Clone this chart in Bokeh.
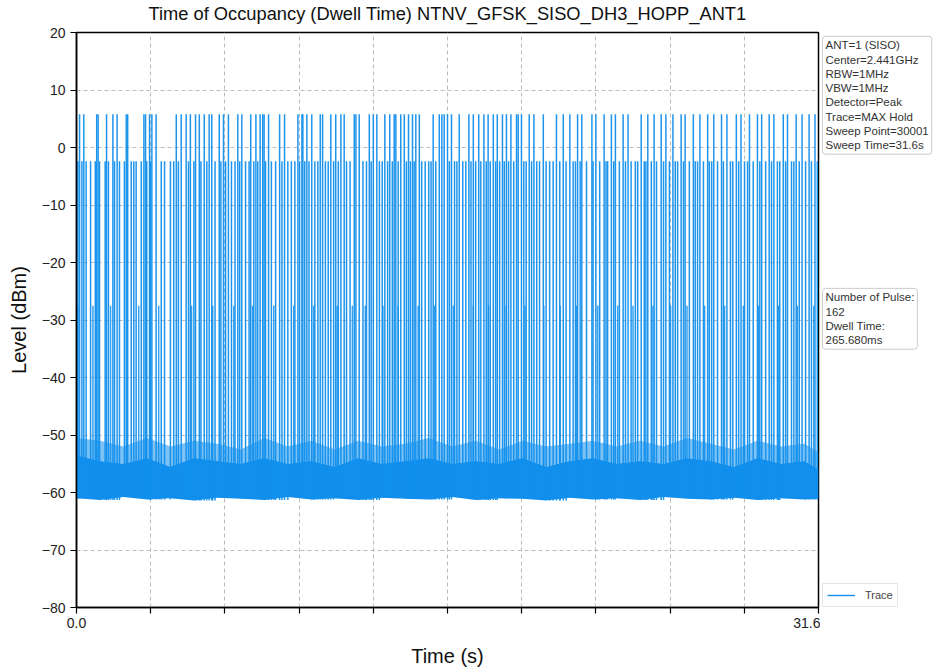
from bokeh.plotting import figure
from bokeh.layouts import row
from bokeh.models import (Range1d, FixedTicker, CustomJSTickFormatter, Label,
                          Legend, LegendItem, Title)
from bokeh.embed import file_html
from bokeh.resources import INLINE

# ---------------- data ----------------
title_text = "Time of Occupancy (Dwell Time) NTNV_GFSK_SISO_DH3_HOPP_ANT1"
sweep_time = 31.6

# pulses reaching ~ +5.8 dBm (time in s)
tall_t = [0.13, 0.31, 0.86, 0.92, 1.28, 1.55, 1.73, 2.12, 2.18, 2.87, 2.94, 3.11,
          3.21, 3.39, 4.25, 4.46, 4.67, 4.85, 5.07, 5.23,
          5.44, 5.65, 5.76, 6.08, 6.26, 6.47, 6.87, 7.04, 7.42, 7.64, 7.82, 7.93,
          7.99, 8.18, 8.65, 8.86, 9.43, 9.60, 9.64, 9.81, 10.02, 10.38, 10.48,
          10.83, 11.04, 11.26, 11.40, 11.83, 11.90, 12.04, 12.47, 12.64, 12.79,
          13.13, 13.34, 13.53, 13.60, 13.81, 13.96, 14.14, 14.31, 14.45, 14.60,
          15.19, 15.45, 15.56, 15.66,
          15.80, 15.97, 16.30, 16.71, 16.90, 17.13, 17.35, 17.53, 17.75, 17.92,
          18.14, 18.31, 18.50, 18.74, 18.81, 18.95, 19.28, 19.48, 19.88, 20.44,
          20.73, 21.01,
          21.34, 21.52, 21.95, 22.12, 22.47, 22.78, 22.95, 23.28, 23.49, 24.05,
          24.33, 24.60, 24.90, 25.10, 25.40, 25.75, 25.92, 26.27, 26.55, 26.88,
          27.14, 27.47, 27.70, 28.10, 28.30, 28.66, 29.00, 29.18, 29.50, 29.70,
          30.10, 30.28, 30.65, 30.90, 31.20, 31.45]
tall_db = 5.8

# pulses reaching ~ -2.4 dBm
med_t = [0.02, 0.06, 0.23, 0.41, 0.60, 0.80, 0.98, 1.22, 1.36, 1.62, 1.83, 2.04,
         2.33, 2.44, 2.54, 2.76, 2.99, 3.15, 3.61, 3.75, 4.00, 4.14, 4.34, 4.77,
         5.00, 5.30, 5.55, 5.90, 6.15, 6.35, 6.60, 6.75, 6.95, 7.20, 7.35, 7.55,
         7.72, 8.05, 8.30, 8.48, 8.75, 9.00, 9.15, 9.30, 9.50, 9.72, 9.90, 10.15,
         10.28, 10.60, 10.72, 10.95, 11.15, 11.50, 11.65, 12.20, 12.35, 12.55,
         12.90, 13.02, 13.25, 13.45, 13.70, 14.05, 14.22, 14.38, 14.70, 14.85,
         15.00, 15.10, 15.30, 15.88, 16.10, 16.20, 16.45, 16.58, 16.80, 17.00,
         17.22, 17.45, 17.62, 17.85, 18.02, 18.22, 18.40, 18.62, 19.05, 19.15,
         19.38, 19.60, 19.72, 20.00, 20.15, 20.30, 20.58, 20.85, 21.15, 21.25,
         21.45, 21.72, 22.00, 22.28, 22.55, 22.62, 22.88, 23.12, 23.38, 23.62,
         23.80, 23.90, 24.18, 24.25, 24.48, 24.70, 25.00, 25.25, 25.50, 25.60,
         25.85, 26.10, 26.35, 26.45, 26.70, 26.95, 27.05, 27.30, 27.55, 27.85,
         27.95, 28.20, 28.45, 28.58, 28.82, 29.10, 29.35, 29.60, 29.85, 29.95,
         30.20, 30.45, 30.55, 30.78, 31.05, 31.30, 31.55]
med_db = -2.4

# pulses reaching ~ -27.5 dBm
low_t = [0.05, 0.70, 1.45, 2.65, 3.50, 4.90, 5.80, 6.70, 7.50, 8.40, 9.25, 10.10,
         11.10, 11.75, 12.30, 13.05, 13.70, 14.55, 15.25, 16.05, 16.90, 17.55,
         18.30, 19.10, 19.90, 20.60, 21.30, 22.20, 23.05, 23.70, 24.55, 25.30,
         26.00, 26.75, 27.60, 28.40, 29.05, 29.90, 30.70, 31.40]
low_db = -27.5

# noise floor envelope
floor_t = [0, 1, 2, 3, 4, 5, 6, 7, 8, 9, 10, 11, 12, 13, 14, 15, 16, 17, 18, 19,
           20, 21, 22, 23, 24, 25, 26, 27, 28, 29, 30, 31, 31.6]
floor_hi = [-53.5, -54.5, -55, -54, -55.5, -54, -54.5, -55, -54, -55, -54.5, -55.5,
            -54, -55, -54.5, -54, -55, -54.5, -55, -54, -55.5, -54.5, -54, -55,
            -54.5, -55, -54, -54.5, -55.5, -54, -55, -54.5, -56]
floor_pk = [-50.5, -51, -52, -50.5, -52, -51, -51.5, -52.5, -50.5, -52, -51, -52.5,
            -51, -52, -51.5, -50.5, -52, -51, -52.5, -51, -52, -51.5, -51, -52,
            -51, -52, -50.5, -51.5, -52.5, -51, -52, -51.5, -53]
floor_lo = [-61.0, -61.3, -60.8, -61.2, -61.0, -61.4, -60.9, -61.1, -61.3, -60.8,
            -61.2, -61.0, -61.3, -60.9, -61.1, -61.2, -60.8, -61.3, -61.0, -61.1,
            -61.4, -60.9, -61.2, -61.0, -61.3, -60.8, -61.1, -61.2, -60.9, -61.3,
            -61.0, -61.2, -61.1]

y_ticks = [-80, -70, -60, -50, -40, -30, -20, -10, 0, 10, 20]
x_ticks = [0, 3.16, 6.32, 9.48, 12.64, 15.8, 18.96, 22.12, 25.28, 28.44, 31.6]

info_text = ("ANT=1 (SISO)\nCenter=2.441GHz\nRBW=1MHz\nVBW=1MHz\nDetector=Peak\n"
             "Trace=MAX Hold\nSweep Point=30001\nSweep Time=31.6s")
pulse_text = "Number of Pulse:\n162\nDwell Time:\n265.680ms"

# ---------------- main figure ----------------
BLUE = "#128fec"
FONT = "Liberation Sans"
H = 672
TOP, BOTTOM = 32, 65

p = figure(width=820, height=H, output_backend="svg", toolbar_location=None,
           x_range=Range1d(0, sweep_time), y_range=Range1d(-80, 20),
           min_border_left=76, min_border_right=2, min_border_top=TOP,
           min_border_bottom=BOTTOM)
p.background_fill_color = "white"
p.border_fill_color = "white"
p.outline_line_color = "black"
p.outline_line_width = 1.5
p.title.standoff = 0

# spacer (closest to the frame) then the real title above it
p.add_layout(Title(text=" ", text_font_size="1px", standoff=6), "above")
p.add_layout(Title(text=title_text, text_font=FONT, text_font_size="18.3px",
                   text_font_style="normal", text_color="#111111",
                   align="center", standoff=0), "above")

# floor
p.varea(x=floor_t, y1=floor_hi, y2=floor_pk, fill_color=BLUE, fill_alpha=0.55)
p.varea(x=floor_t, y1=floor_lo, y2=floor_hi, fill_color=BLUE, fill_alpha=1.0)

def floor_at(t):
    for i in range(len(floor_t) - 1):
        if floor_t[i] <= t <= floor_t[i + 1]:
            return floor_lo[i]
    return floor_lo[-1]

for ts, lvl, alpha in ((low_t, low_db, 0.85), (med_t, med_db, 0.95), (tall_t, tall_db, 0.95)):
    p.segment(x0=ts, y0=[floor_at(t) for t in ts], x1=ts, y1=[lvl] * len(ts),
              line_color=BLUE, line_width=1.5, line_alpha=alpha)

# axes
for ax in (p.xaxis[0], p.yaxis[0]):
    ax.axis_line_color = "black"
    ax.axis_line_width = 1.5
    ax.major_tick_line_color = "black"
    ax.major_tick_line_width = 1.2
    ax.major_tick_out = 6
    ax.major_tick_in = 0
    ax.minor_tick_line_color = None
    ax.major_label_text_font = FONT
    ax.major_label_text_font_size = "14px"
    ax.major_label_text_color = "#222222"
    ax.axis_label_text_font = FONT
    ax.axis_label_text_font_size = "20px"
    ax.axis_label_text_font_style = "normal"
    ax.axis_label_text_color = "#111111"

p.xaxis.ticker = FixedTicker(ticks=x_ticks)
p.xaxis.formatter = CustomJSTickFormatter(
    code="if (tick < 0.01) return '0.0'; if (tick > 31.5) return '31.6'; return '';")
p.xaxis.axis_label = "Time (s)"
p.xaxis.major_label_standoff = 4
p.xaxis.axis_label_standoff = 14

p.yaxis.ticker = FixedTicker(ticks=y_ticks)
p.yaxis.formatter = CustomJSTickFormatter(
    code="return String(tick).replace('-', '\u2212');")
p.yaxis.axis_label = "Level (dBm)"
p.yaxis.major_label_standoff = 5
p.yaxis.axis_label_standoff = 9

p.xgrid.grid_line_color = "#aaaaaa"
p.ygrid.grid_line_color = "#aaaaaa"
p.xgrid.grid_line_dash = "4 3"
p.ygrid.grid_line_dash = "4 3"
p.xgrid.grid_line_width = 0.8
p.ygrid.grid_line_width = 0.8

# ---------------- side panel (info boxes + legend) ----------------
SIDE_W = 114
side = figure(width=SIDE_W, height=H, output_backend="svg", toolbar_location=None,
              x_range=Range1d(0, SIDE_W), y_range=Range1d(-80, 20),
              x_axis_type=None, y_axis_type=None,
              min_border_left=0, min_border_right=0, min_border_top=TOP,
              min_border_bottom=BOTTOM)
side.outline_line_color = None
side.grid.visible = False
side.background_fill_color = "white"
side.border_fill_color = "white"

for txt, ytop in ((info_text, 19.35), (pulse_text, -24.5)):
    side.add_layout(Label(x=2, y=ytop, text=txt, text_align="left",
                          text_baseline="top", text_font=FONT,
                          text_font_size="11.5px", text_line_height=1.19,
                          text_color="#333333", padding=3, border_radius=3,
                          border_line_color="#cccccc", border_line_width=1,
                          background_fill_color="white"))

# legend sample renderer (kept outside the visible side range)
r_leg = side.line(x=[-20, -10], y=[0, 0], line_color=BLUE, line_width=1.4)
legend = Legend(items=[LegendItem(label="Trace", renderers=[r_leg])],
                location=(2, 0), margin=0, padding=4, glyph_width=28,
                glyph_height=14, label_height=14, label_standoff=10,
                label_text_font=FONT, label_text_font_size="11px",
                border_line_color="#cccccc", background_fill_alpha=1.0)
side.add_layout(legend, "center")

layout = row(p, side, spacing=0)
open("out.html", "w").write(file_html(layout, INLINE))
